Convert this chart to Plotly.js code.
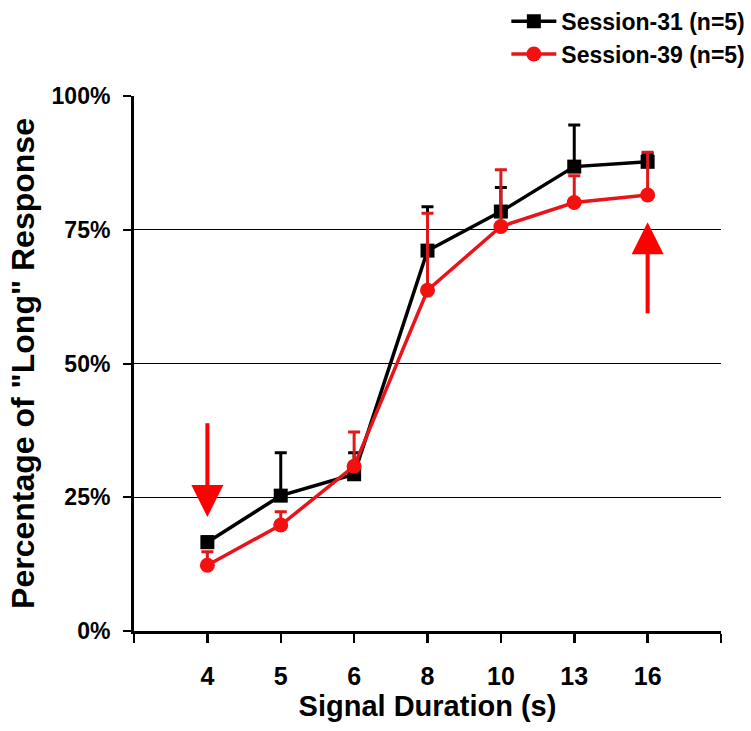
<!DOCTYPE html>
<html>
<head>
<meta charset="utf-8">
<script src="https://cdn.plot.ly/plotly-3.0.1.min.js"></script>
<style>html,body{margin:0;padding:0;background:#fff;}#chart{width:751px;height:731px;}</style>
</head>
<body>
<div id="chart"></div>
<script>
// Signal durations (s), shown as evenly spaced categories
var categories = ['4', '5', '6', '8', '10', '13', '16'];
var catIndex = [0, 1, 2, 3, 4, 5, 6];

// Percentage of "Long" response
var session31 = [16.6, 25.3, 29.3, 71.1, 78.4, 86.8, 87.7];
var session31Err = [1.0, 8.0, 4.0, 8.2, 4.5, 7.8, 1.5];
var session39 = [12.3, 19.8, 30.8, 63.7, 75.6, 80.1, 81.5];
var session39Err = [2.5, 2.5, 6.4, 14.4, 10.6, 5.0, 8.0];

var yTickVals = [0, 25, 50, 75, 100];
var yTickText = ['0%', '25%', '50%', '75%', '100%'];

var FONT = 'Liberation Sans, Arial, Helvetica, sans-serif';
var zeros = categories.map(function () { return 0; });

var traces = [
  {
    x: catIndex, y: session31, name: 'Session-31 (n=5)', type: 'scatter', mode: 'lines+markers',
    line: {color: '#000000', width: 3.5},
    marker: {symbol: 'square', size: 14, color: '#000000'},
    error_y: {type: 'data', symmetric: false, array: session31Err, arrayminus: zeros,
              color: '#000000', thickness: 3, width: 6}
  },
  {
    x: catIndex, y: session39, name: 'Session-39 (n=5)', type: 'scatter', mode: 'lines+markers',
    line: {color: '#e8141a', width: 3.5},
    marker: {symbol: 'circle', size: 15, color: '#f51010'},
    error_y: {type: 'data', symmetric: false, array: session39Err, arrayminus: zeros,
              color: '#e01818', thickness: 3, width: 6}
  }
];

var layout = {
  width: 751, height: 731,
  margin: {l: 134, r: 30, t: 96, b: 100, autoexpand: false},
  paper_bgcolor: '#ffffff', plot_bgcolor: '#ffffff',
  font: {family: FONT, color: '#000000'},
  showlegend: true,
  legend: {
    x: 1.05, xanchor: 'right', xref: 'paper',
    y: 1.18, yanchor: 'top',
    bgcolor: 'rgba(0,0,0,0)',
    font: {family: FONT, size: 23, weight: 'bold', color: '#000'},
    itemwidth: 45, tracegroupgap: 0
  },
  xaxis: {
    range: [-1, 7],
    tickmode: 'array',
    tickvals: [-1].concat(catIndex, [7]),
    ticktext: [''].concat(categories, ['']),
    ticks: 'outside', ticklen: 9, tickwidth: 2.5, tickcolor: '#000',
    ticklabelstandoff: 12,
    tickfont: {family: FONT, size: 25, weight: 'bold', color: '#000'},
    showline: true, linewidth: 3, linecolor: '#000',
    showgrid: false, zeroline: false,
    title: {text: 'Signal Duration (s)', font: {family: FONT, size: 29, weight: 'bold', color: '#000'}, standoff: 6}
  },
  yaxis: {
    range: [0, 100],
    tickmode: 'array', tickvals: yTickVals, ticktext: yTickText,
    ticks: 'outside', ticklen: 8, tickwidth: 2, tickcolor: '#000',
    ticklabelstandoff: 8,
    tickfont: {family: FONT, size: 23, weight: 'bold', color: '#000'},
    showline: true, linewidth: 3, linecolor: '#000',
    showgrid: true, gridcolor: '#000', gridwidth: 1,
    zeroline: false,
    title: {text: 'Percentage of "Long" Response', font: {family: FONT, size: 32, weight: 'bold', color: '#000'}, standoff: 8}
  },
  annotations: [
    {x: 0, y: 21.3, ax: 0, ay: 39.1, xref: 'x', yref: 'y', axref: 'x', ayref: 'y',
     text: '', showarrow: true, arrowhead: 2, arrowsize: 1.6, arrowwidth: 4, arrowcolor: '#ff0000'},
    {x: 6, y: 76.4, ax: 6, ay: 59.1, xref: 'x', yref: 'y', axref: 'x', ayref: 'y',
     text: '', showarrow: true, arrowhead: 2, arrowsize: 1.6, arrowwidth: 4, arrowcolor: '#ff0000'}
  ]
};

Plotly.newPlot('chart', traces, layout, {displayModeBar: false, staticPlot: true});
</script>
</body>
</html>
